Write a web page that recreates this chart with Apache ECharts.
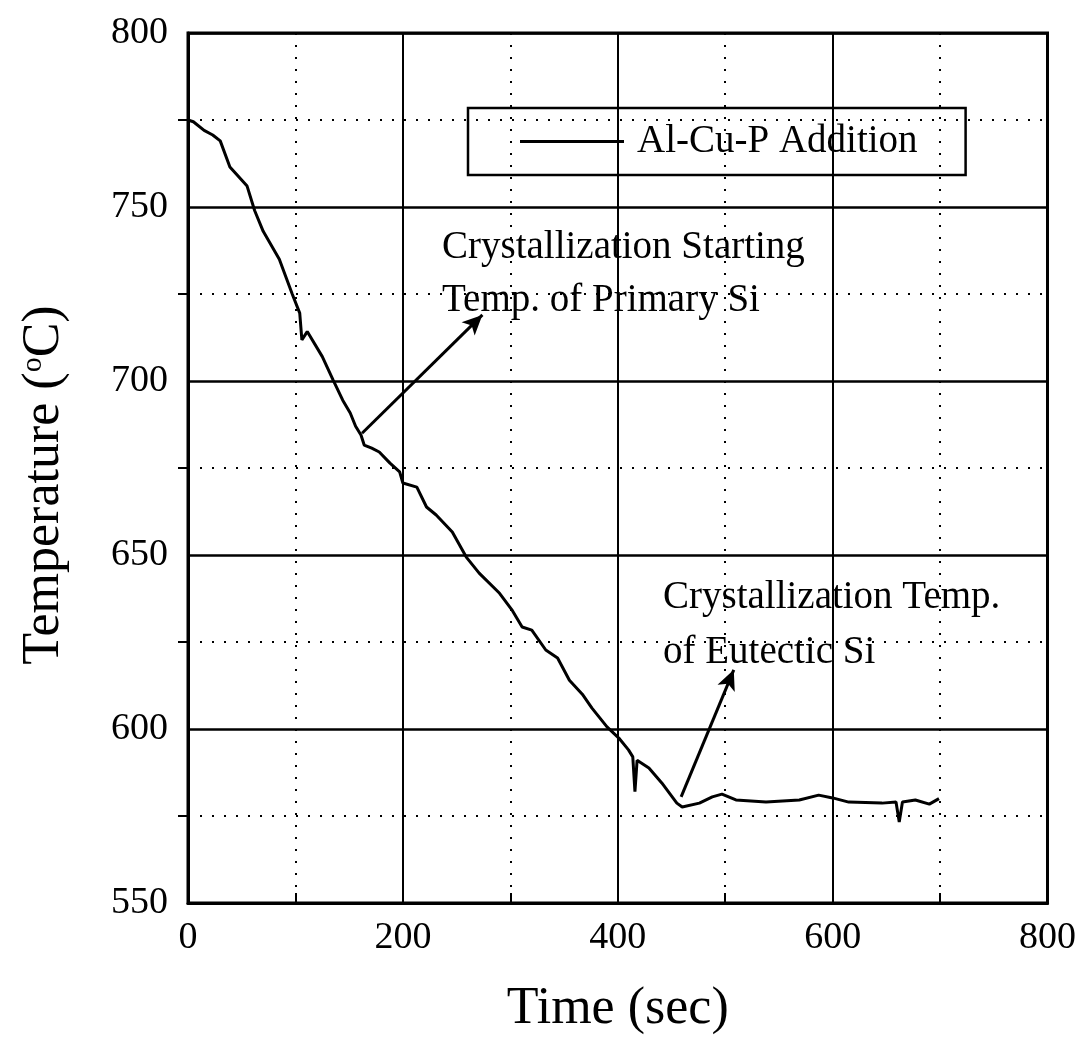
<!DOCTYPE html>
<html>
<head>
<meta charset="utf-8">
<title>Cooling curve</title>
<script src="https://cdn.jsdelivr.net/npm/echarts@6/dist/echarts.min.js"></script>
<style>
    html, body { margin: 0; padding: 0; background: #fff; }
    #chart { width: 1079px; height: 1041px; }
</style>
</head>
<body>
<div id="chart"></div>
<script>
// time (sec) and temperature (°C)
var timeSec = [0, 5, 15, 23, 30, 39, 55, 62, 70, 85, 97, 104, 106, 111, 125, 135, 144, 151, 156, 161,
    164, 171, 178, 188, 197, 200, 213, 222, 231, 246, 259, 271, 290, 302, 311, 320, 333, 344, 355, 367,
    376, 390, 401, 410, 414, 416, 418, 429, 441, 455, 460, 476, 488, 497, 510, 538, 569, 587, 600, 615,
    646, 659, 662, 665, 677, 690, 699];
var tempC = [775, 774.5, 772, 770.7, 769, 761.5, 756, 749, 743, 735, 725, 719.5, 711.8, 714.2, 707, 700.3, 694.5, 690.8, 687, 684.5,
    681.6, 680.7, 679.6, 676.4, 673.9, 670.7, 669.5, 663.8, 661.5, 656.6, 649.4, 644.8, 639, 634, 629.3, 628.4, 622.7, 620.4, 614, 610,
    606, 600.6, 597.4, 594, 592, 582, 591, 588.8, 584.5, 578.7, 577.6, 578.7, 580.5, 581.3, 579.6, 579, 579.6, 581, 580.2, 579,
    578.7, 579, 573.3, 579, 579.6, 578.4, 580];

// arrows: [tail, head]
var arrowPrimary = [[162, 685], [274, 719]];
var arrowEutectic = [[459, 580.5], [508, 617]];

var xTicks = { min: 0, max: 800, interval: 200 };
var yTicks = { min: 550, max: 800, interval: 50 };

var seriesName = 'Al-Cu-P Addition';
var noteTop = 'Crystallization Starting\nTemp. of Primary Si';
var noteBottom = 'Crystallization Temp.\nof Eutectic Si';

var FONT = '"Liberation Serif", "DejaVu Serif", serif';

var points = timeSec.map(function(t, i) { return [t, tempC[i]]; });

var chart = echarts.init(document.getElementById('chart'), null, { renderer: 'canvas' });

var dotted = { color: '#000', width: 2, type: [2, 10] };

chart.setOption({
    animation: false,
    backgroundColor: '#fff',
    textStyle: { fontFamily: FONT, color: '#000' },
    grid: {
        left: 188, right: 30, top: 33, bottom: 138,
        show: true, borderColor: '#000', borderWidth: 3, backgroundColor: 'transparent'
    },
    legend: {
        left: 468, top: 108,
        orient: 'horizontal',
        data: [{ name: seriesName, icon: 'rect' }],
        itemWidth: 104, itemHeight: 3,
        itemStyle: { color: '#000', borderWidth: 0 },
        padding: [14, 48, 14, 52],
        borderColor: '#000', borderWidth: 2.5, borderRadius: 0,
        textStyle: { fontFamily: FONT, fontSize: 39, color: '#000', lineHeight: 39, padding: [0, 0, 0, 8] }
    },
    xAxis: {
        type: 'value',
        min: xTicks.min, max: xTicks.max, interval: xTicks.interval,
        name: 'Time (sec)', nameLocation: 'middle', nameGap: 80,
        nameTextStyle: { fontFamily: FONT, fontSize: 52, color: '#000' },
        axisLine: { show: true, lineStyle: { color: '#000', width: 3 } },
        axisTick: { show: true, inside: true, length: 10, lineStyle: { color: '#000', width: 2 } },
        minorTick: { show: true, splitNumber: 2, length: 10, lineStyle: { color: '#000', width: 2 } },
        axisLabel: { fontFamily: FONT, fontSize: 38, color: '#000', margin: 16 },
        splitLine: { show: true, lineStyle: { color: '#000', width: 2 } },
        minorSplitLine: { show: true, lineStyle: dotted }
    },
    yAxis: {
        type: 'value',
        min: yTicks.min, max: yTicks.max, interval: yTicks.interval,
        name: '{n|Temperature (}{s|o}{n|C)}', nameLocation: 'middle', nameGap: 118, nameRotate: 90,
        nameTextStyle: {
            padding: [0, 34, 0, 0],
            rich: {
                n: { fontFamily: FONT, fontSize: 52, color: '#000' },
                s: { fontFamily: FONT, fontSize: 30, color: '#000', verticalAlign: 'top', padding: [0, 0, 20, 0] }
            }
        },
        axisLine: { show: true, lineStyle: { color: '#000', width: 3 } },
        axisTick: { show: false },
        minorTick: { show: true, splitNumber: 2, length: 10, lineStyle: { color: '#000', width: 2 } },
        axisLabel: { fontFamily: FONT, fontSize: 38, color: '#000', margin: 20 },
        splitLine: { show: true, lineStyle: { color: '#000', width: 2.5 } },
        minorSplitLine: { show: true, lineStyle: dotted }
    },
    series: [{
        name: seriesName,
        type: 'line',
        data: points,
        symbol: 'none',
        lineStyle: { color: '#000', width: 3 },
        itemStyle: { color: '#000' },
        markLine: {
            silent: true,
            symbol: ['none', 'arrow'],
            symbolSize: [14, 20],
            label: { show: false },
            lineStyle: { color: '#000', width: 3, type: 'solid' },
            data: [
                [{ coord: arrowPrimary[0] }, { coord: arrowPrimary[1] }],
                [{ coord: arrowEutectic[0] }, { coord: arrowEutectic[1] }]
            ]
        }
    }],
    graphic: [
        {
            type: 'text', left: 442, top: 221, silent: true,
            style: { text: noteTop, fontFamily: FONT, fontSize: 39, lineHeight: 53, fill: '#000' }
        },
        {
            type: 'text', left: 663, top: 570, silent: true,
            style: { text: noteBottom, fontFamily: FONT, fontSize: 39, lineHeight: 55, fill: '#000' }
        }
    ]
});
</script>
</body>
</html>
